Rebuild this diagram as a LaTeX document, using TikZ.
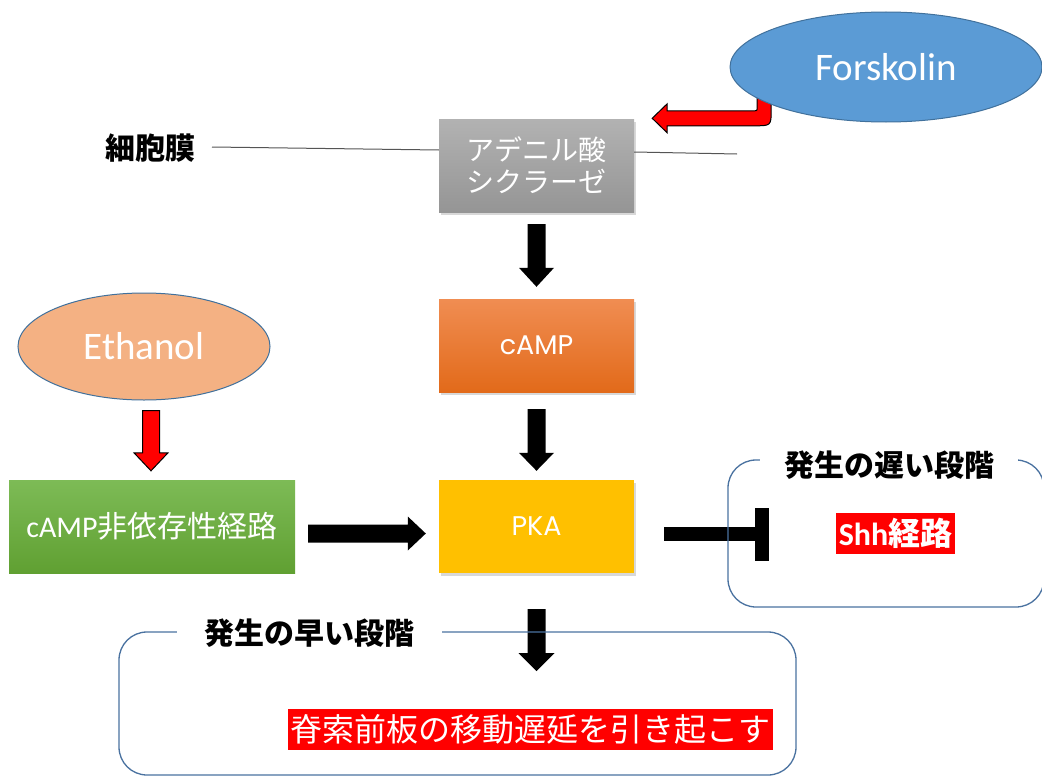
\documentclass[tikz,border=0pt]{standalone}
\usepackage{fontspec}
\setmainfont{Carlito}
\newfontfamily\jp{Noto Sans CJK JP}
\newfontfamily\pop{Poppins}
\usetikzlibrary{shapes.geometric,shadows,calc}
\definecolor{fblue}{HTML}{5B9BD5}
\definecolor{eblue}{HTML}{41719C}
\definecolor{epeach}{HTML}{F4B183}
\definecolor{stageblue}{HTML}{4A72A0}
\definecolor{pkaY}{HTML}{FFC000}
\definecolor{grTop}{HTML}{B2B2B2}
\definecolor{grBot}{HTML}{959595}
\definecolor{orTop}{HTML}{F08D52}
\definecolor{orMid}{HTML}{F47C24}
\definecolor{orBot}{HTML}{E26A1A}
\definecolor{gnTop}{HTML}{7DBB56}
\definecolor{gnBot}{HTML}{60A032}
\definecolor{memline}{HTML}{555555}
\newcommand{\vfat}[6]{\draw[#6] ($(#1)+(-#3,0)$) -- ($(#2)+(-#3,-#5)$) -- ($(#2)+(-#4,-#5)$) -- (#2) -- ($(#2)+(#4,-#5)$) -- ($(#2)+(#3,-#5)$) -- ($(#1)+(#3,0)$) -- cycle;}
\newcommand{\hfat}[6]{\draw[#6] ($(#1)+(0,-#3)$) -- ($(#2)+(-#5,-#3)$) -- ($(#2)+(-#5,-#4)$) -- (#2) -- ($(#2)+(-#5,#4)$) -- ($(#2)+(-#5,#3)$) -- ($(#1)+(0,#3)$) -- cycle;}
\tikzset{
  boxnode/.style={rectangle, minimum width=195, minimum height=93, inner sep=0, text=white,
    drop shadow={shadow xshift=1.5pt, shadow yshift=-2.5pt, opacity=0.3}},
  ovalnode/.style={ellipse, draw=eblue, line width=1pt, inner sep=0, text=white},
  blackarrow/.style={fill=black, draw=none},
  redarrow/.style={fill=red, draw=black, line width=1pt, line join=miter},
  stagebox/.style={draw=stageblue, line width=1.3pt, rounded corners=28},
  stagetitle/.style={fill=white, inner sep=0, font=\jp\bfseries\fontsize{30}{34}\selectfont},
  redlabel/.style={fill=red, text=white, inner sep=2.5, minimum height=41}
}
\begin{document}
\begin{tikzpicture}[x=1pt,y=-1pt]
\useasboundingbox[fill=white] (0,0) rectangle (1042,776);

% main nodes
\node[boxnode, top color=grTop, bottom color=grBot, align=center,
  font=\jp\fontsize{28}{32}\selectfont] (adc) at (536.5,165.5) {アデニル酸\\シクラーゼ};
\node[boxnode, top color=orTop, middle color=orMid, bottom color=orBot,
  font=\pop\fontsize{27}{30}\selectfont] (camp) at (536.5,345.5) {cAMP};
\node[boxnode, fill=pkaY, font=\pop\fontsize{27}{30}\selectfont] (pka) at (536.5,526.5) {PKA};
\node[rectangle, minimum width=286, minimum height=93, inner sep=0, text=white,
  top color=gnTop, bottom color=gnBot, font=\fontsize{30}{34}\selectfont]
  (indep) at (152,526.5) {cAMP{\jp 非依存性経路}};

% membrane
\node[font=\jp\bfseries\fontsize{30}{34}\selectfont, inner sep=0] (mem) at (150,148) {細胞膜};
\coordinate (memL) at (212,147);
\coordinate (memR) at (737,154);
\draw[memline, line width=1pt] (memL) -- (adc.west |- 0,150);
\draw[memline, line width=1pt] (adc.east |- 0,152) -- (memR);

% Forskolin red bent arrow
\coordinate (ftip) at ($(adc.north east)+(18,-0.5)$);
\begin{scope}[shift={(ftip)}]
\draw[redarrow] (119,-26.5) -- (119,-9) .. controls (119,7.5) .. (102,7.5) -- (15,7.5) -- (15,14.5)
  -- (0,0) -- (15,-14.5) -- (15,-7.5) -- (101,-7.5) .. controls (105,-7.5) .. (105,-11.5) -- (105,-26.5) -- cycle;
\end{scope}
\node[ovalnode, fill=fblue, minimum width=312, minimum height=110,
  font=\fontsize{39}{44}\selectfont] (fors) at (886,67) {Forskolin};

% Ethanol
\node[ovalnode, fill=epeach, minimum width=252, minimum height=107,
  font=\fontsize{39}{44}\selectfont] (eth) at (144,346.5) {Ethanol};

% block arrows
\coordinate (a1s) at ($(adc.south)+(0,12)$);
\coordinate (a1e) at ($(camp.north)+(0,-12)$);
\vfat{a1s}{a1e}{9}{17.5}{19}{blackarrow}
\coordinate (a2s) at ($(camp.south)+(0,17)$);
\coordinate (a2e) at ($(pka.north)+(0,-9)$);
\vfat{a2s}{a2e}{9}{17.5}{18}{blackarrow}
\coordinate (a3s) at ($(pka.south)+(0,36)$);
\coordinate (a3e) at ($(pka.south)+(0,98)$);
\vfat{a3s}{a3e}{9}{18}{18}{blackarrow}
\coordinate (ers) at ($(eth.south)+(7,10)$);
\coordinate (ere) at ($(indep.north)+(-1,-9)$);
\vfat{ers}{ere}{8.5}{17}{18}{redarrow}
\coordinate (hs) at ($(indep.east)+(13,7)$);
\coordinate (he) at ($(pka.west)+(-13,7)$);
\hfat{hs}{he}{9}{17}{18}{blackarrow}

% inhibition
\coordinate (inhS) at ($(pka.east)+(30,7.5)$);
\coordinate (inhE) at ($(pka.east)+(121,7.5)$);
\fill[black] ($(inhS)+(0,-7)$) rectangle ($(inhE)+(0,7)$);
\fill[black] ($(inhE)+(0,-26.5)$) rectangle ($(inhE)+(14,26.5)$);

% late stage box
\draw[stagebox] (728,460) rectangle (1044,607);
\node[stagetitle, minimum width=258] (late) at (889,465) {発生の遅い段階};
\node[redlabel, font=\bfseries\fontsize{32}{36}\selectfont] (shh) at (895.5,533.5) {Shh{\jp 経路}};

% early stage box
\draw[stagebox] (119,632) rectangle (796,775);
\node[stagetitle, minimum width=265] (early) at (309.5,633) {発生の早い段階};
\node[redlabel, font=\jp\fontsize{32}{36}\selectfont] (delay) at (530.5,729.5) {脊索前板の移動遅延を引き起こす};
\end{tikzpicture}
\end{document}
